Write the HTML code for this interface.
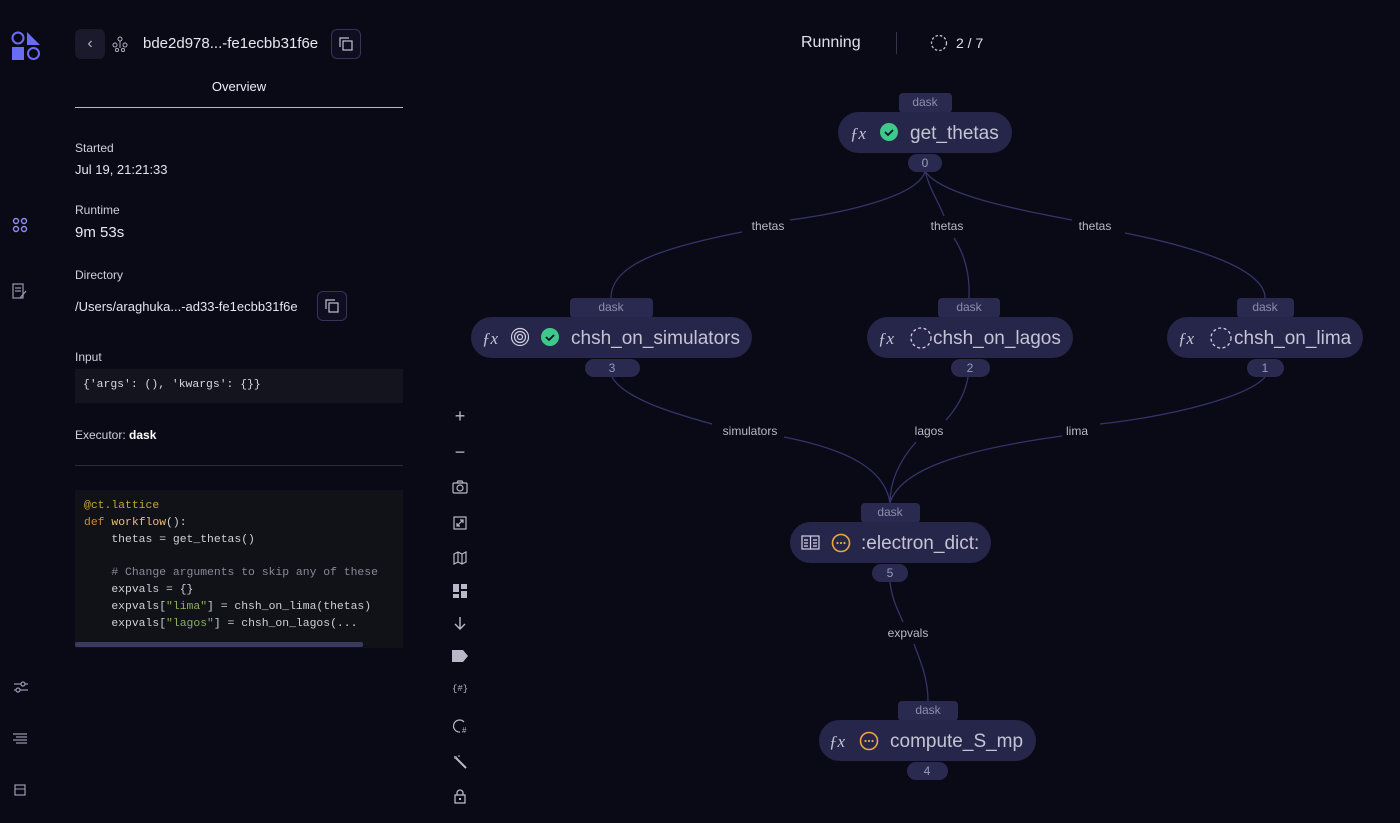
<!DOCTYPE html>
<html><head><meta charset="utf-8"><style>
*{margin:0;padding:0;box-sizing:border-box}
body{width:1400px;height:823px;background:#0a0a17;color:#d8d8e4;font-family:"Liberation Sans",sans-serif;position:relative;overflow:hidden}
.a{position:absolute}
.lbl{font-size:12px;color:#d0d0dc}
.val{font-size:13px;color:#e4e4ee}
.code{font-family:"Liberation Mono",monospace;font-size:11.4px;line-height:16.8px;color:#d0d0d8;white-space:pre}
.tb{position:absolute;left:452px;width:16px;height:16px;color:#b8b8c8;font-size:16px;text-align:center;line-height:16px}
</style></head><body>
<svg class="a" style="left:11px;top:31px" width="30" height="30" viewBox="0 0 30 30">
<circle cx="7" cy="7" r="5.5" fill="none" stroke="#6a6cf6" stroke-width="2"/>
<polygon points="16,1 29,14 16,14" fill="#6a6cf6"/>
<rect x="1" y="16" width="12" height="13" fill="#6a6cf6"/>
<circle cx="22.5" cy="22.5" r="5.5" fill="none" stroke="#6a6cf6" stroke-width="2"/>
</svg>
<svg class="a" style="left:12px;top:217px" width="16" height="16"><g fill="none" stroke="#8a8cf0" stroke-width="1.4"><circle cx="4" cy="4" r="2.5"/><circle cx="12" cy="4" r="2.5"/><circle cx="4" cy="12" r="2.5"/><circle cx="12" cy="12" r="2.5"/></g></svg>
<svg class="a" style="left:12px;top:283px" width="16" height="17"><g fill="none" stroke="#9a9ab0" stroke-width="1.2"><rect x="1" y="1" width="10" height="14"/><line x1="3" y1="5" x2="9" y2="5"/><line x1="3" y1="8" x2="9" y2="8"/><line x1="14" y1="8" x2="8" y2="15"/></g></svg>
<svg class="a" style="left:13px;top:680px" width="16" height="14"><g stroke="#9a9ab0" stroke-width="1.2" fill="none"><line x1="1" y1="4" x2="15" y2="4"/><line x1="1" y1="10" x2="15" y2="10"/><circle cx="10" cy="4" r="2" fill="#0a0a17"/><circle cx="5" cy="10" r="2" fill="#0a0a17"/></g></svg>
<svg class="a" style="left:13px;top:733px" width="14" height="12"><g stroke="#9a9ab0" stroke-width="1.2"><line x1="0" y1="1" x2="14" y2="1"/><line x1="3" y1="4" x2="14" y2="4"/><line x1="0" y1="7" x2="14" y2="7"/><line x1="3" y1="10" x2="14" y2="10"/></g></svg>
<svg class="a" style="left:14px;top:784px" width="12" height="12"><rect x="1" y="1" width="10" height="10" fill="none" stroke="#9a9ab0" stroke-width="1.2"/><line x1="1" y1="5" x2="11" y2="5" stroke="#9a9ab0"/></svg>

<div class="a" style="left:75px;top:29px;width:30px;height:30px;background:#1a1a2c;border-radius:6px;color:#b0b0c0;text-align:center;line-height:30px;font-size:16px">‹</div>
<svg class="a" style="left:112px;top:36px" width="16" height="16"><g fill="none" stroke="#b0b0c0" stroke-width="1"><circle cx="8" cy="3" r="2"/><circle cx="3" cy="9" r="2"/><circle cx="13" cy="9" r="2"/><circle cx="5" cy="14" r="1.6"/><circle cx="11" cy="14" r="1.6"/><line x1="8" y1="5" x2="8" y2="12"/></g></svg>
<div class="a" style="left:143px;top:35px;font-size:15px;color:#e8e8f0">bde2d978...-fe1ecbb31f6e</div>
<div class="a" style="left:331px;top:29px;width:30px;height:30px;border:1px solid #34345a;border-radius:6px;background:#0e0e20"></div>
<svg class="a" style="left:339px;top:37px" width="14" height="14"><g fill="none" stroke="#c0c0d0" stroke-width="1.2"><rect x="4" y="4" width="9" height="9"/><path d="M1 10V1h9"/></g></svg>
<div class="a" style="left:75px;top:79px;width:328px;text-align:center;font-size:13px;color:#ececf4">Overview</div>
<div class="a" style="left:75px;top:107px;width:328px;height:1px;background:#b8b8c8"></div>

<div class="a lbl" style="left:75px;top:141px">Started</div>
<div class="a val" style="left:75px;top:162px">Jul 19, 21:21:33</div>
<div class="a lbl" style="left:75px;top:203px">Runtime</div>
<div class="a" style="left:75px;top:224px;font-size:15px;color:#e8e8f0">9m 53s</div>
<div class="a lbl" style="left:75px;top:268px">Directory</div>
<div class="a val" style="left:75px;top:299px">/Users/araghuka...-ad33-fe1ecbb31f6e</div>
<div class="a" style="left:317px;top:291px;width:30px;height:30px;border:1px solid #34345a;border-radius:6px;background:#0e0e20"></div>
<svg class="a" style="left:325px;top:299px" width="14" height="14"><g fill="none" stroke="#c0c0d0" stroke-width="1.2"><rect x="4" y="4" width="9" height="9"/><path d="M1 10V1h9"/></g></svg>
<div class="a lbl" style="left:75px;top:350px">Input</div>
<div class="a code" style="left:75px;top:369px;width:328px;height:34px;background:#14141e;padding:8px 8px;color:#d8d8e0">{'args': (), 'kwargs': {}}</div>
<div class="a lbl" style="left:75px;top:428px">Executor: <b style="color:#fff">dask</b></div>
<div class="a" style="left:75px;top:465px;width:328px;height:1px;background:#2a2a3a"></div>
<div class="a" style="left:75px;top:490px;width:328px;height:158px;background:#111118"></div>
<div class="a code" style="left:84px;top:498px"><span style="color:#c9a53a">@ct.lattice</span>
<span style="color:#d08a3a">def</span> <span style="color:#e8c070">workflow</span>():
    thetas = get_thetas()

    <span style="color:#8a8a98"># Change arguments to skip any of these</span>
    expvals = {}
    expvals[<span style="color:#8ab060">"lima"</span>] = chsh_on_lima(thetas)
    expvals[<span style="color:#8ab060">"lagos"</span>] = chsh_on_lagos(...</div>
<div class="a" style="left:75px;top:642px;width:288px;height:5px;background:#3a3a5e;border-radius:2px"></div>

<div class="a" style="left:801px;top:34px;font-size:16px;color:#e0e0ea">Running</div>
<div class="a" style="left:896px;top:32px;width:1px;height:22px;background:#33334a"></div>
<svg class="a" style="left:930px;top:34px" width="18" height="18"><circle cx="9" cy="9" r="7.5" fill="none" stroke="#c0c0d0" stroke-width="1.3" stroke-dasharray="2.5 2"/></svg>
<div class="a" style="left:956px;top:35px;font-size:14px;color:#e0e0ea">2 / 7</div>

<div class="tb" style="top:408px;font-size:18px">+</div>
<div class="tb" style="top:444px;font-size:18px">−</div>
<svg class="a" style="left:452px;top:480px" width="16" height="14"><g fill="none" stroke="#b8b8c8" stroke-width="1.2"><rect x="1" y="3" width="14" height="10" rx="1"/><circle cx="8" cy="8" r="3"/><path d="M5 3l1-2h4l1 2"/></g></svg>
<svg class="a" style="left:453px;top:516px" width="14" height="14"><g fill="none" stroke="#b8b8c8" stroke-width="1.2"><rect x="1" y="1" width="12" height="12"/><path d="M4 10l6-6M4 7v3h3M7 4h3v3"/></g></svg>
<svg class="a" style="left:453px;top:551px" width="14" height="14"><path d="M1 3l4-2 4 2 4-2v10l-4 2-4-2-4 2z M5 1v10M9 3v10" fill="none" stroke="#b8b8c8" stroke-width="1.2"/></svg>
<svg class="a" style="left:453px;top:584px" width="14" height="14"><g fill="#b8b8c8"><rect x="0" y="0" width="6" height="8"/><rect x="8" y="0" width="6" height="5"/><rect x="0" y="10" width="6" height="4"/><rect x="8" y="7" width="6" height="7"/></g></svg>
<svg class="a" style="left:453px;top:616px" width="14" height="14"><path d="M7 1v12M2 8l5 5 5-5" fill="none" stroke="#b8b8c8" stroke-width="1.4"/></svg>
<svg class="a" style="left:452px;top:650px" width="16" height="12"><path d="M0 0h11l5 6-5 6H0z" fill="#b8b8c8"/></svg>
<div class="a" style="left:452px;top:684px;font-size:9px;color:#b8b8c8;font-family:'Liberation Mono',monospace">{#}</div>
<svg class="a" style="left:453px;top:719px" width="15" height="15"><path d="M11 3A6 6 0 1 0 7 13" fill="none" stroke="#b8b8c8" stroke-width="1.2"/><text x="9" y="14" font-size="8" fill="#b8b8c8" font-family="Liberation Sans">#</text></svg>
<svg class="a" style="left:453px;top:755px" width="14" height="14"><path d="M3 3l10 10" stroke="#b8b8c8" stroke-width="2"/><path d="M2 1v3M1 2h3M6 0v2" stroke="#b8b8c8"/></svg>
<svg class="a" style="left:454px;top:789px" width="12" height="15"><g fill="none" stroke="#b8b8c8" stroke-width="1.3"><rect x="1" y="6" width="10" height="8"/><path d="M3 6V4a3 3 0 0 1 6 0v2"/></g><rect x="5" y="9" width="2" height="2" fill="#b8b8c8"/></svg>

<svg class="a" style="left:0;top:0" width="1400" height="823" font-family="Liberation Sans">
<g fill="none" stroke="#34346a" stroke-width="1.3">
<path d="M925 171C920 195 850 212 790 220"/><path d="M742 232C660 248 611 265 611 298"/>
<path d="M925 171C930 190 940 205 944 216"/><path d="M954 238C965 255 970 275 969 298"/>
<path d="M925 171C940 195 1020 210 1072 220"/><path d="M1125 233C1200 248 1265 270 1265 298"/>
<path d="M612 377C625 400 680 415 712 424"/><path d="M784 437C850 450 885 470 890 503"/>
<path d="M968 377C965 395 955 410 946 420"/><path d="M916 442C900 460 890 480 890 503"/>
<path d="M1265 377C1250 395 1180 415 1100 424"/><path d="M1062 436C960 450 900 470 890 503"/>
<path d="M890 582C892 600 898 610 903 622"/><path d="M914 644C922 665 928 680 928 701"/>
</g>
<g font-size="12" fill="#b8b8c6" text-anchor="middle">
<text x="768" y="230">thetas</text><text x="947" y="230">thetas</text><text x="1095" y="230">thetas</text>
<text x="750" y="435">simulators</text><text x="929" y="435">lagos</text><text x="1077" y="435">lima</text>
<text x="908" y="637">expvals</text>
</g>
<g font-size="19" fill="#c4c4d4">
<rect x="899" y="93" width="53" height="20" rx="4" fill="#2a2950"/>
<text x="925" y="106" font-size="12" fill="#8e8eac" text-anchor="middle">dask</text>
<rect x="838" y="112" width="174" height="41" rx="20.5" fill="#26254a"/>
<rect x="908" y="154" width="34" height="18" rx="9" fill="#2a2950"/>
<text x="925" y="167" font-size="12" fill="#9a9ab8" text-anchor="middle">0</text>
<text x="850" y="139" font-size="17" font-style="italic" font-family="Liberation Serif">ƒx</text>
<circle cx="889" cy="132" r="9" fill="#3ec98a"/><path d="M885 132l3 3 5-5" stroke="#10102a" stroke-width="1.8" fill="none"/>
<text x="910" y="139">get_thetas</text>
<rect x="570" y="298" width="83" height="20" rx="4" fill="#2a2950"/>
<text x="611" y="311" font-size="12" fill="#8e8eac" text-anchor="middle">dask</text>
<rect x="471" y="317" width="281" height="41" rx="20.5" fill="#26254a"/>
<rect x="585" y="359" width="55" height="18" rx="9" fill="#2a2950"/>
<text x="612" y="372" font-size="12" fill="#9a9ab8" text-anchor="middle">3</text>
<text x="482" y="344" font-size="17" font-style="italic" font-family="Liberation Serif">ƒx</text>
<g fill="none" stroke="#d0d0e0" stroke-width="1.2"><circle cx="520" cy="337" r="8.5"/><circle cx="520" cy="337" r="5.5"/><circle cx="520" cy="337" r="2.5"/></g>
<circle cx="550" cy="337" r="9" fill="#3ec98a"/><path d="M546 337l3 3 5-5" stroke="#10102a" stroke-width="1.8" fill="none"/>
<text x="571" y="344">chsh_on_simulators</text>
<rect x="938" y="298" width="62" height="20" rx="4" fill="#2a2950"/>
<text x="969" y="311" font-size="12" fill="#8e8eac" text-anchor="middle">dask</text>
<rect x="867" y="317" width="206" height="41" rx="20.5" fill="#26254a"/>
<rect x="951" y="359" width="39" height="18" rx="9" fill="#2a2950"/>
<text x="970" y="372" font-size="12" fill="#9a9ab8" text-anchor="middle">2</text>
<text x="878" y="344" font-size="17" font-style="italic" font-family="Liberation Serif">ƒx</text>
<circle cx="921" cy="338" r="10" fill="none" stroke="#d0d0e0" stroke-width="1.3" stroke-dasharray="3 2.5"/>
<text x="933" y="344">chsh_on_lagos</text>
<rect x="1237" y="298" width="57" height="20" rx="4" fill="#2a2950"/>
<text x="1265" y="311" font-size="12" fill="#8e8eac" text-anchor="middle">dask</text>
<rect x="1167" y="317" width="196" height="41" rx="20.5" fill="#26254a"/>
<rect x="1247" y="359" width="37" height="18" rx="9" fill="#2a2950"/>
<text x="1265" y="372" font-size="12" fill="#9a9ab8" text-anchor="middle">1</text>
<text x="1178" y="344" font-size="17" font-style="italic" font-family="Liberation Serif">ƒx</text>
<circle cx="1221" cy="338" r="10" fill="none" stroke="#d0d0e0" stroke-width="1.3" stroke-dasharray="3 2.5"/>
<text x="1234" y="344">chsh_on_lima</text>
<rect x="861" y="503" width="59" height="20" rx="4" fill="#2a2950"/>
<text x="890" y="516" font-size="12" fill="#8e8eac" text-anchor="middle">dask</text>
<rect x="790" y="522" width="201" height="41" rx="20.5" fill="#26254a"/>
<rect x="872" y="564" width="36" height="18" rx="9" fill="#2a2950"/>
<text x="890" y="577" font-size="12" fill="#9a9ab8" text-anchor="middle">5</text>
<g fill="none" stroke="#d0d0e0" stroke-width="1.2"><rect x="802" y="536" width="17" height="13"/><line x1="810.5" y1="536" x2="810.5" y2="549"/><path d="M804 540h4M804 543h4M804 546h4M813 540h4M813 543h4M813 546h4"/></g>
<circle cx="841" cy="543" r="8.5" fill="none" stroke="#e8a840" stroke-width="1.6"/>
<g fill="#e8a840"><circle cx="837.5" cy="543" r="1.1"/><circle cx="841" cy="543" r="1.1"/><circle cx="844.5" cy="543" r="1.1"/></g>
<text x="861" y="549">:electron_dict:</text>
<rect x="898" y="701" width="60" height="20" rx="4" fill="#2a2950"/>
<text x="928" y="714" font-size="12" fill="#8e8eac" text-anchor="middle">dask</text>
<rect x="819" y="720" width="217" height="41" rx="20.5" fill="#26254a"/>
<rect x="907" y="762" width="41" height="18" rx="9" fill="#2a2950"/>
<text x="927" y="775" font-size="12" fill="#9a9ab8" text-anchor="middle">4</text>
<text x="829" y="747" font-size="17" font-style="italic" font-family="Liberation Serif">ƒx</text>
<circle cx="869" cy="741" r="8.5" fill="none" stroke="#e8a840" stroke-width="1.6"/>
<g fill="#e8a840"><circle cx="865.5" cy="741" r="1.1"/><circle cx="869" cy="741" r="1.1"/><circle cx="872.5" cy="741" r="1.1"/></g>
<text x="890" y="747">compute_S_mp</text>
</g>
</svg>
</body></html>
